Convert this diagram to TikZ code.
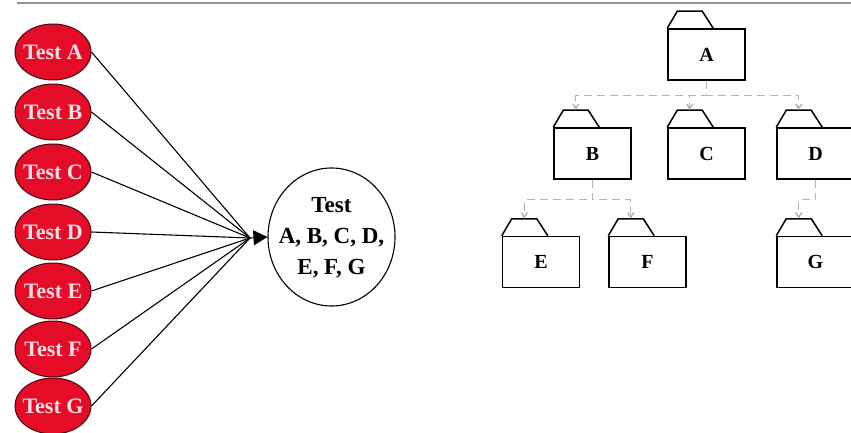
\documentclass[tikz,border=0pt]{standalone}
\usepackage{fontspec}
\setmainfont{Liberation Serif}
\usetikzlibrary{arrows.meta,shapes.geometric}
\definecolor{testred}{RGB}{228,12,38}
\definecolor{testedge}{RGB}{70,10,15}
\definecolor{testtext}{RGB}{250,222,228}
\definecolor{linkgray}{RGB}{180,180,180}
\tikzset{
  testnode/.style={ellipse, draw=testedge, line width=1pt, fill=testred,
    minimum width=76, minimum height=56, inner sep=0pt,
    text=testtext, font=\bfseries\fontsize{22}{22}\selectfont},
  merged/.style={ellipse, draw=black, line width=1.1pt,
    minimum width=127, minimum height=138, inner sep=0pt,
    font=\bfseries\fontsize{23}{31}\selectfont},
  feed/.style={draw=black, line width=1.1pt},
  folder/.style={rectangle, draw=black, line width=1.5pt,
    minimum width=77, minimum height=51, inner sep=0pt,
    font=\bfseries\fontsize{20}{20}\selectfont},
  dep/.style={draw=linkgray, line width=1.4pt, dash pattern=on 8pt off 5pt,
    -{Straight Barb[length=5pt,width=6pt]}},
}
% centred text that does not widen the ellipse around it
\newcommand{\fixedlabel}[1]{\makebox[0pt][c]{#1}}
% folder tab on top of a folder body, anchored at its upper-left corner
\newcommand{\foldertab}[1]{%
  \draw[line width=1.5pt, line join=miter] (#1.north west) -- ++(10,-17) -- ++(25,0) -- ++(11,17);
  \coordinate (#1tab) at ([shift={(22.5,-17)}]#1.north west);}
\begin{document}
\begin{tikzpicture}[x=1pt,y=-1pt]
\useasboundingbox (0,0) rectangle (851,433);
\clip (0,0) rectangle (851,433);

% rule across the top
\draw[draw=gray!85, line width=1.8pt] (17,3) coordinate (ruleL) -- (851,3) coordinate (ruleR);

% individual tests
\node[testnode] (tA) at (53,52)  {\fixedlabel{Test A}};
\node[testnode] (tB) at (53,112) {\fixedlabel{Test B}};
\node[testnode] (tC) at (53,172) {\fixedlabel{Test C}};
\node[testnode] (tD) at (53,232) {\fixedlabel{Test D}};
\node[testnode] (tE) at (53,291) {\fixedlabel{Test E}};
\node[testnode] (tF) at (53,349) {\fixedlabel{Test F}};
\node[testnode] (tG) at (53,406) {\fixedlabel{Test G}};

% combined test
\node[merged] (all) at (331.5,237)
  {\fixedlabel{\begin{tabular}{@{}c@{}}Test\\A, B, C, D,\\E, F, G\end{tabular}}};
\coordinate (hub) at (250,238);

\foreach \t in {tA,tB,tC,tD,tE,tF,tG}
  \draw[feed] (\t.east) -- (hub);
\draw[feed, -{Triangle[length=14pt,width=15pt]}] (hub) -- (all.west);

% package hierarchy
\node[folder] (A) at (706.5,54.5) {A};
\node[folder] (B) at (592.5,153.5) {B};
\node[folder] (C) at (706.5,153.5) {C};
\node[folder] (D) at (815.5,153.5) {D};
\node[folder] (E) at (541,262) {E};
\node[folder] (F) at (647.5,262) {F};
\node[folder] (G) at (815.5,262) {G};
\foreach \f in {A,B,C,D,E,F,G} {\foldertab{\f}}

\draw[dep] (A.south) -- ++(0,15) -| (Btab);
\draw[dep] (A.south) -- ++(0,15) -| (Ctab);
\draw[dep] (A.south) -- ++(0,15) -| (Dtab);
\draw[dep] (B.south) -- ++(0,20) -| (Etab);
\draw[dep] (B.south) -- ++(0,20) -| (Ftab);
\draw[dep] (D.south) -- ++(0,20) -| (Gtab);
\end{tikzpicture}
\end{document}
